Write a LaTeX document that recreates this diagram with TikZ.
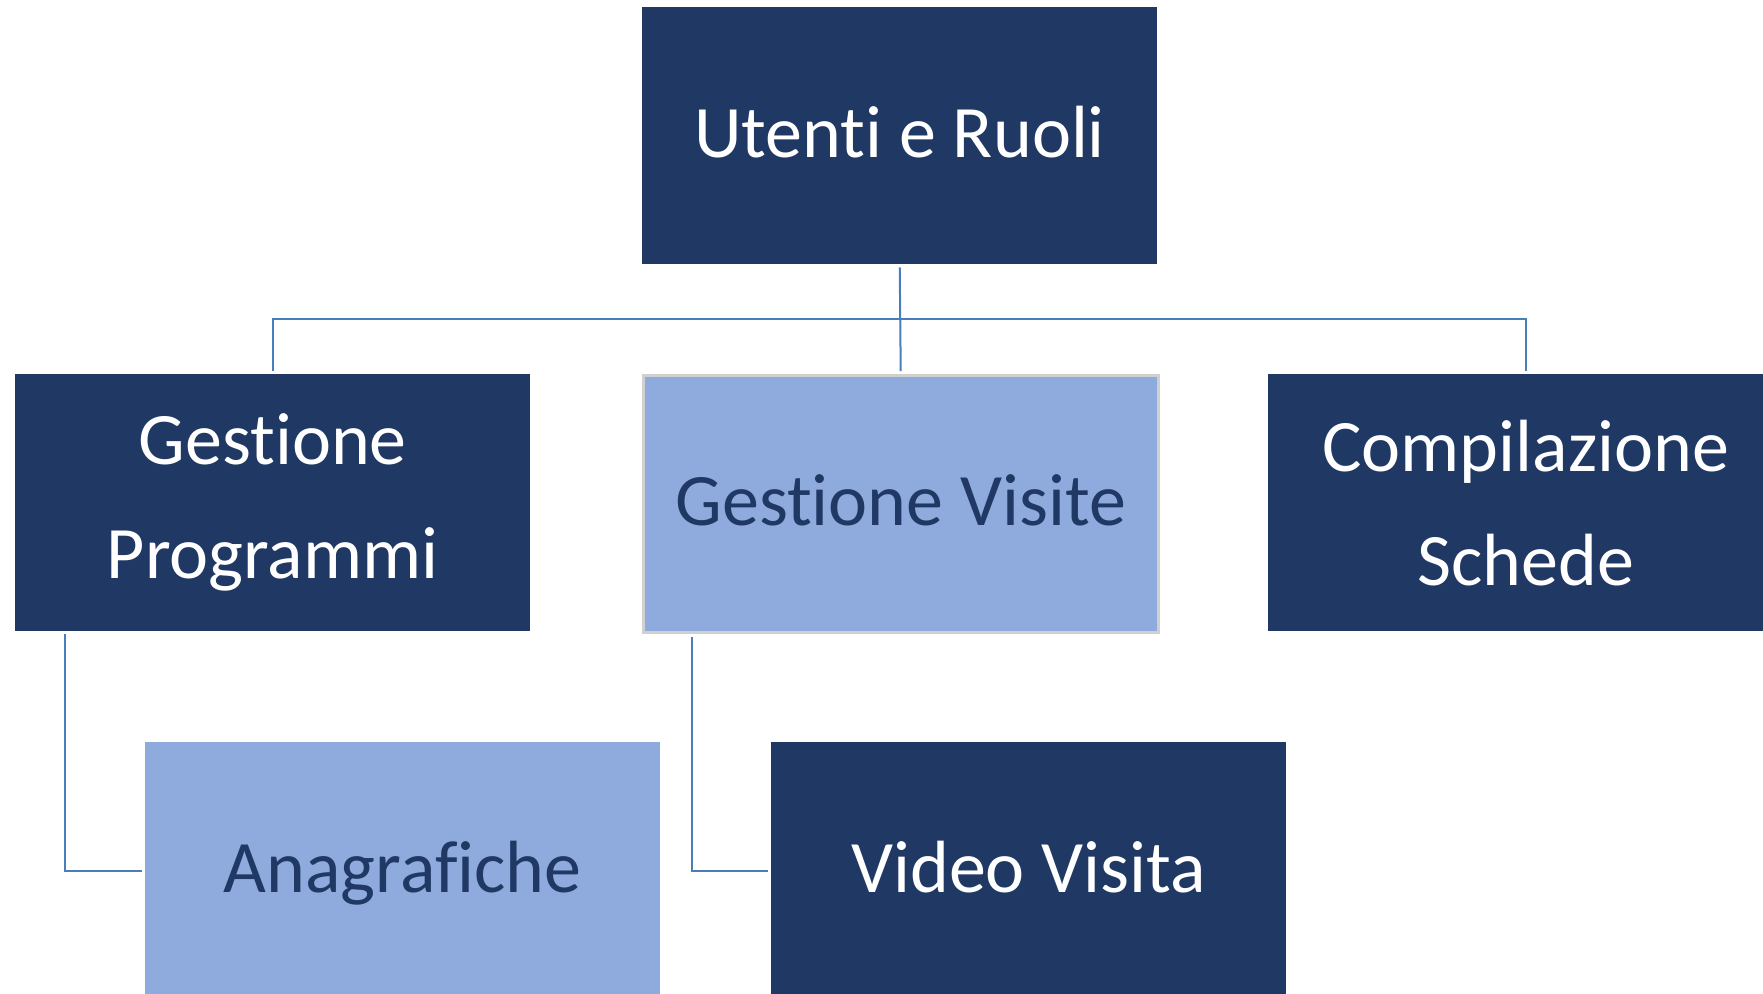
\documentclass[tikz,border=0pt]{standalone}
\usepackage{fontspec}
\setmainfont{Carlito}[Ligatures=NoCommon]
\definecolor{navy}{HTML}{203864}
\definecolor{lightblue}{HTML}{8FAADC}
\definecolor{linkblue}{HTML}{4A7EBB}
\definecolor{boxgray}{HTML}{D0D0D0}
\tikzset{
  box/.style={rectangle, inner sep=0pt, minimum width=515pt, minimum height=257pt, anchor=north west, align=center, font=\fontsize{74}{114}\selectfont},
  oneline/.style={text height=60pt, text depth=16pt},
  darkbox/.style={box, fill=navy, text=white},
  lightbox/.style={box, fill=lightblue, text=navy},
  link/.style={draw=linkblue, line width=2pt}
}
\begin{document}
\begin{tikzpicture}[x=1pt,y=-1pt]
\useasboundingbox (0,0) rectangle (1763,993);
\clip (0,0) rectangle (1763,993);
\node[darkbox, oneline] (U) at (642,7) {Utenti e Ruoli};
\node[darkbox] (GP) at (15,374) {Gestione\\Programmi};
\node[lightbox, oneline, draw=boxgray, line width=2.5pt] (GV) at (642,374) {Gestione Visite};
\node[darkbox] (CS) at (1268,374) {Compilazione\\Schede};
\node[lightbox, oneline] (A) at (145,742) {Anagrafiche};
\node[darkbox, oneline] (V) at (771,742) {Video Visita};
\coordinate (bus) at (899.5,319);
\draw[link, shorten <=3pt, shorten >=3pt] (U.south) -- (GV.north);
\draw[link, shorten <=3pt, shorten >=3pt] (GP.north) |- (bus) -| (CS.north);
\draw[link, shorten <=3pt, shorten >=3pt] ([xshift=50pt]GP.south west) |- (A.west);
\draw[link, shorten <=3pt, shorten >=3pt] ([xshift=50pt]GV.south west) |- (V.west);
\end{tikzpicture}
\end{document}
